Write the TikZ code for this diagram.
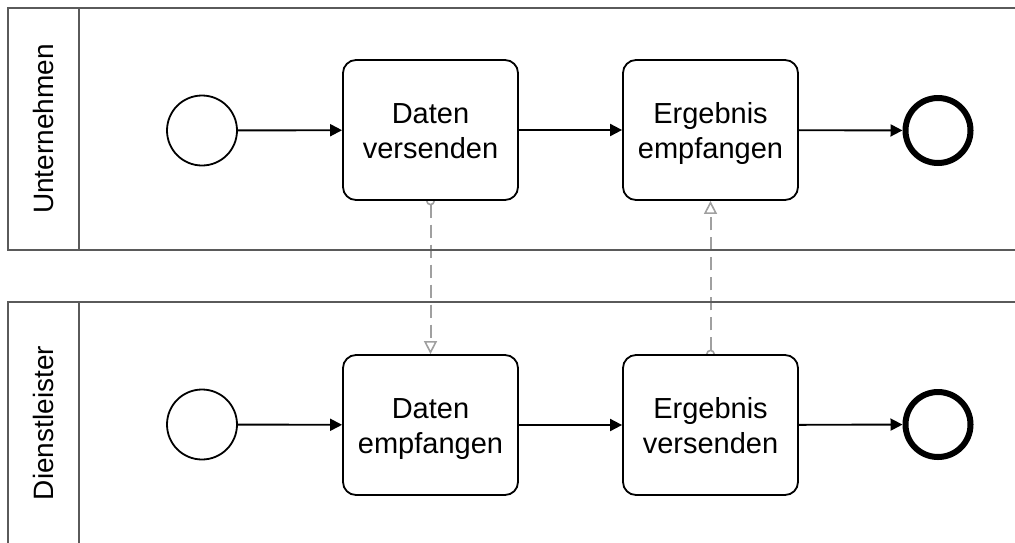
\documentclass[tikz,border=0pt]{standalone}
\usepackage{fontspec}
\setmainfont{Liberation Sans}
\usetikzlibrary{arrows.meta,backgrounds}
\definecolor{poolgray}{HTML}{5A5A5A}
\definecolor{msggray}{HTML}{A0A0A0}
\newcommand{\tl}[2]{\rule{0pt}{32pt}#1\\\strut #2}
\begin{document}
\begin{tikzpicture}[x=1pt,y=-1pt,
  pool/.style={draw=poolgray,line width=1.5pt},
  task/.style={draw=black,fill=white,line width=1.8pt,rounded corners=13pt,
    minimum width=175pt,minimum height=140pt,align=center,inner sep=0pt,
    font=\fontsize{29}{35}\selectfont},
  startev/.style={circle,draw=black,fill=white,line width=1.8pt,minimum size=70pt,inner sep=0pt},
  endev/.style={circle,draw=black,fill=white,line width=6pt,minimum size=65pt,inner sep=0pt},
  seq/.style={line width=1.9pt,-{Triangle[length=12pt,width=12pt]}},
  msg/.style={draw=msggray,line width=2pt,dash pattern=on 13pt off 7pt,
    {Circle[open,length=9pt,width=9pt,line width=1.6pt,sep=0pt]}-{Triangle[open,length=13pt,width=13pt,line width=1.6pt]}},
  lanelabel/.style={rotate=90,font=\fontsize{28}{33}\selectfont,inner sep=0pt}
]
\useasboundingbox (0,0) rectangle (1015,542);
% pools
\draw[pool] (1040,8) -- (8,8) -- (8,250) -- (1040,250);
\draw[pool] (79,8) -- (79,250);
\draw[pool] (1040,302) -- (8,302) -- (8,560);
\draw[pool] (79,302) -- (79,560);
\node[lanelabel] (l1) at (43.5,129) {Unternehmen};
\node[lanelabel] (l2) at (43.5,423) {Dienstleister};
% nodes
\node[startev] (s1) at (202,130.5) {};
\node[task] (t1) at (430.5,130) {\tl{Daten}{versenden}};
\node[task] (t2) at (710.5,130) {\tl{Ergebnis}{empfangen}};
\node[endev] (e1) at (938,130.5) {};
\node[startev] (s2) at (202,424.5) {};
\node[task] (t3) at (430.5,425) {\tl{Daten}{empfangen}};
\node[task] (t4) at (710.5,425) {\tl{Ergebnis}{versenden}};
\node[endev] (e2) at (938,424.5) {};
% sequence flows
\draw[seq] (s1) -- (t1);
\draw[seq] (t1) -- (t2);
\draw[seq] (t2) -- (e1);
\draw[seq] (s2) -- (t3);
\draw[seq] (t3) -- (t4);
\draw[seq] (t4) -- (e2);
% message flows behind the boxes
\begin{pgfonlayer}{background}
\fill[white] (0,0) rectangle (1015,542);
\draw[msg,shorten <=-4.5pt] (t1.south) -- (t3.north);
\draw[msg,shorten <=-4.5pt] (t4.north) -- (t2.south);
\end{pgfonlayer}
\end{tikzpicture}
\end{document}
